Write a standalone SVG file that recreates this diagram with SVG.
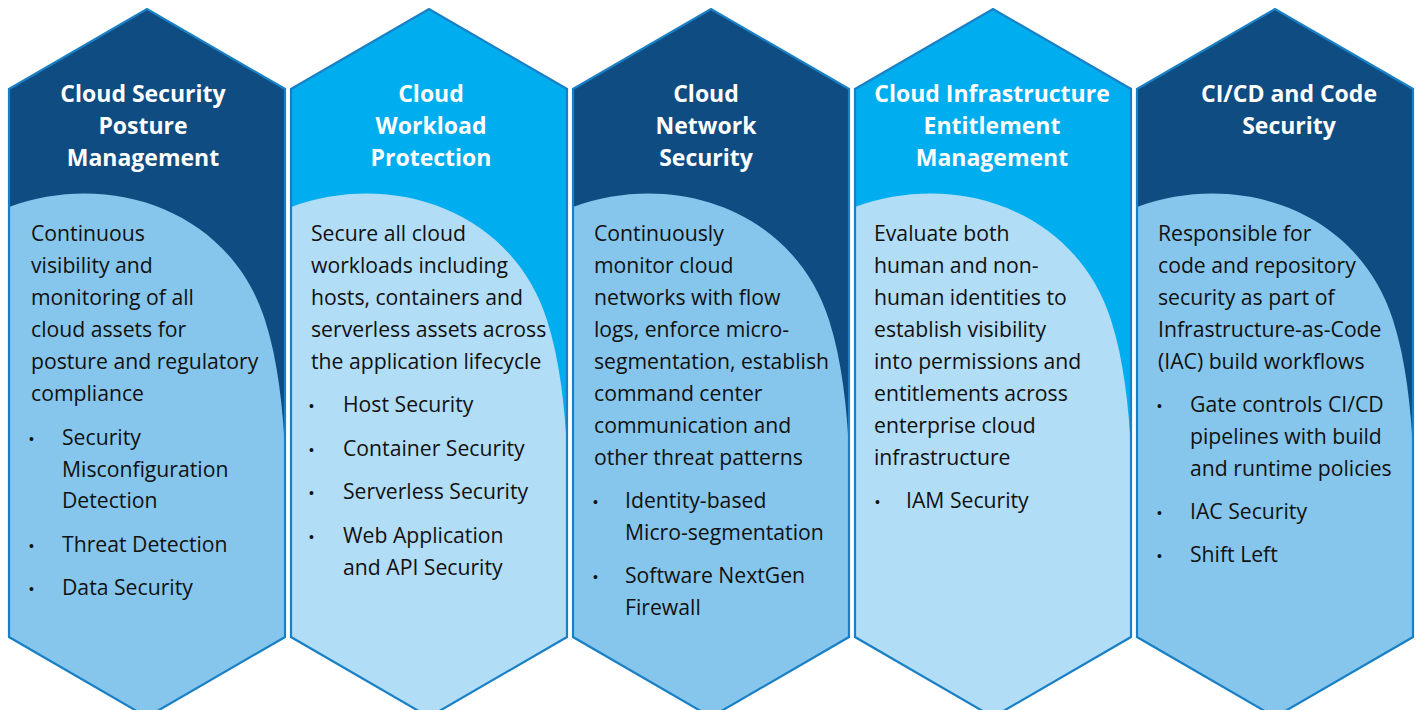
<svg xmlns="http://www.w3.org/2000/svg" xmlns:xlink="http://www.w3.org/1999/xlink" width="1418" height="710" viewBox="0 0 1418 710">
<style>
.hd-dark{fill:#0f4c81}
.hd-bright{fill:#00adee}
.bd-dark{fill:#86c6ec}
.bd-bright{fill:#b2ddf7}
.outline{fill:none;stroke:#1a80c6;stroke-width:2.2;stroke-linejoin:miter}
.title{font-family:"Open Sans","Liberation Sans",sans-serif;font-weight:700;font-size:23px;fill:#ffffff;text-anchor:middle}
.body{font-family:"Open Sans","Liberation Sans",sans-serif;font-size:21.2px;fill:#111111}
.dot{font-family:"Liberation Sans",sans-serif;font-size:14px;fill:#111111}
</style>
<defs>
<path id="hex" d="M0,89 L138,9 L276,89 L276,637 L138,717 L0,637 Z"/>
<path id="bodyshape" d="M0,207 C101,170 221,210 256,320 C269,360 274,410 276,450 L276,637 L138,717 L0,637 Z"/>
</defs>
<rect width="1418" height="710" fill="#ffffff"/>

<g id="node-cspm">
<use xlink:href="#hex" class="hd-dark" transform="translate(9,0)"/>
<use xlink:href="#bodyshape" class="bd-dark" transform="translate(9,0)"/>
<use xlink:href="#hex" class="outline" transform="translate(9,0)"/>
<text class="title" x="143" y="102">Cloud Security</text>
<text class="title" x="143" y="134">Posture</text>
<text class="title" x="143" y="166">Management</text>
<text class="body" x="31" y="241">Continuous</text>
<text class="body" x="31" y="273">visibility and</text>
<text class="body" x="31" y="305">monitoring of all</text>
<text class="body" x="31" y="337">cloud assets for</text>
<text class="body" x="31" y="369">posture and regulatory</text>
<text class="body" x="31" y="401">compliance</text>
<text class="dot" x="29" y="444">•</text>
<text class="body" x="62" y="445">Security</text>
<text class="body" x="62" y="477">Misconfiguration</text>
<text class="body" x="62" y="508">Detection</text>
<text class="dot" x="29" y="551">•</text>
<text class="body" x="62" y="552">Threat Detection</text>
<text class="dot" x="29" y="594">•</text>
<text class="body" x="62" y="595">Data Security</text>
</g>

<g id="node-cwp">
<use xlink:href="#hex" class="hd-bright" transform="translate(291,0)"/>
<use xlink:href="#bodyshape" class="bd-bright" transform="translate(291,0)"/>
<use xlink:href="#hex" class="outline" transform="translate(291,0)"/>
<text class="title" x="431" y="102">Cloud</text>
<text class="title" x="431" y="134">Workload</text>
<text class="title" x="431" y="166">Protection</text>
<text class="body" x="311" y="241">Secure all cloud</text>
<text class="body" x="311" y="273">workloads including</text>
<text class="body" x="311" y="305">hosts, containers and</text>
<text class="body" x="311" y="337">serverless assets across</text>
<text class="body" x="311" y="369">the application lifecycle</text>
<text class="dot" x="309" y="411">•</text>
<text class="body" x="343" y="412">Host Security</text>
<text class="dot" x="309" y="455">•</text>
<text class="body" x="343" y="456">Container Security</text>
<text class="dot" x="309" y="498">•</text>
<text class="body" x="343" y="499">Serverless Security</text>
<text class="dot" x="309" y="542">•</text>
<text class="body" x="343" y="543">Web Application</text>
<text class="body" x="343" y="575">and API Security</text>
</g>

<g id="node-cns">
<use xlink:href="#hex" class="hd-dark" transform="translate(573,0)"/>
<use xlink:href="#bodyshape" class="bd-dark" transform="translate(573,0)"/>
<use xlink:href="#hex" class="outline" transform="translate(573,0)"/>
<text class="title" x="706" y="102">Cloud</text>
<text class="title" x="706" y="134">Network</text>
<text class="title" x="706" y="166">Security</text>
<text class="body" x="594" y="241">Continuously</text>
<text class="body" x="594" y="273">monitor cloud</text>
<text class="body" x="594" y="305">networks with flow</text>
<text class="body" x="594" y="337">logs, enforce micro-</text>
<text class="body" x="594" y="369">segmentation, establish</text>
<text class="body" x="594" y="401">command center</text>
<text class="body" x="594" y="433">communication and</text>
<text class="body" x="594" y="465">other threat patterns</text>
<text class="dot" x="593" y="507">•</text>
<text class="body" x="625" y="508">Identity-based</text>
<text class="body" x="625" y="540">Micro-segmentation</text>
<text class="dot" x="593" y="582">•</text>
<text class="body" x="625" y="583">Software NextGen</text>
<text class="body" x="625" y="615">Firewall</text>
</g>

<g id="node-ciem">
<use xlink:href="#hex" class="hd-bright" transform="translate(855,0)"/>
<use xlink:href="#bodyshape" class="bd-bright" transform="translate(855,0)"/>
<use xlink:href="#hex" class="outline" transform="translate(855,0)"/>
<text class="title" x="992" y="102">Cloud Infrastructure</text>
<text class="title" x="992" y="134">Entitlement</text>
<text class="title" x="992" y="166">Management</text>
<text class="body" x="874" y="241">Evaluate both</text>
<text class="body" x="874" y="273">human and non-</text>
<text class="body" x="874" y="305">human identities to</text>
<text class="body" x="874" y="337">establish visibility</text>
<text class="body" x="874" y="369">into permissions and</text>
<text class="body" x="874" y="401">entitlements across</text>
<text class="body" x="874" y="433">enterprise cloud</text>
<text class="body" x="874" y="465">infrastructure</text>
<text class="dot" x="875" y="507">•</text>
<text class="body" x="906" y="508">IAM Security</text>
</g>

<g id="node-cicd">
<use xlink:href="#hex" class="hd-dark" transform="translate(1137,0)"/>
<use xlink:href="#bodyshape" class="bd-dark" transform="translate(1137,0)"/>
<use xlink:href="#hex" class="outline" transform="translate(1137,0)"/>
<text class="title" x="1289" y="102">CI/CD and Code</text>
<text class="title" x="1289" y="134">Security</text>
<text class="body" x="1158" y="241">Responsible for</text>
<text class="body" x="1158" y="273">code and repository</text>
<text class="body" x="1158" y="305">security as part of</text>
<text class="body" x="1158" y="337">Infrastructure-as-Code</text>
<text class="body" x="1158" y="369">(IAC) build workflows</text>
<text class="dot" x="1157" y="411">•</text>
<text class="body" x="1190" y="412">Gate controls CI/CD</text>
<text class="body" x="1190" y="444">pipelines with build</text>
<text class="body" x="1190" y="476">and runtime policies</text>
<text class="dot" x="1157" y="518">•</text>
<text class="body" x="1190" y="519">IAC Security</text>
<text class="dot" x="1157" y="561">•</text>
<text class="body" x="1190" y="562">Shift Left</text>
</g>

<g id="connectors"></g>
</svg>
